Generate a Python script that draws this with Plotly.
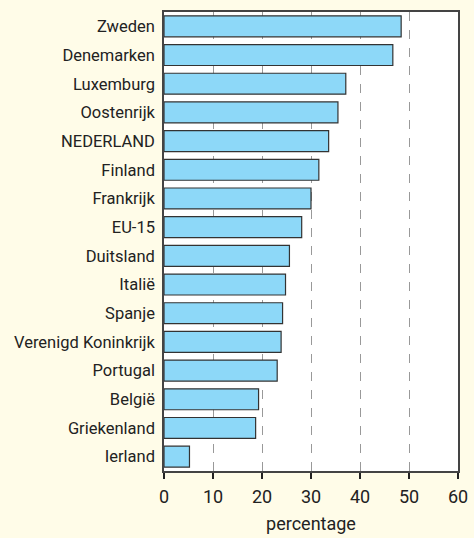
import plotly.graph_objects as go

countries = ["Zweden", "Denemarken", "Luxemburg", "Oostenrijk", "NEDERLAND", "Finland",
             "Frankrijk", "EU-15", "Duitsland", "Italië", "Spanje", "Verenigd Koninkrijk",
             "Portugal", "België", "Griekenland", "Ierland"]
values = [48.4, 46.7, 37.1, 35.5, 33.6, 31.6, 30.0, 28.1, 25.6, 24.8, 24.2, 23.9,
          23.1, 19.3, 18.7, 5.2]
x_ticks = [0, 10, 20, 30, 40, 50, 60]
x_title = "percentage"

FONT = "Roboto, sans-serif"
BG = "#fffce8"

fig = go.Figure(go.Bar(
    x=values, y=countries, orientation="h",
    marker=dict(color="#8dd8f8", line=dict(color="#333333", width=1.2)),
    hoverinfo="x+y",
))

fig.update_layout(
    width=474, height=538,
    margin=dict(l=164, r=16, t=12, b=67, autoexpand=False),
    paper_bgcolor=BG,
    plot_bgcolor="#ffffff",
    bargap=0.27,
    showlegend=False,
    font=dict(family=FONT, size=16.5, color="#222222"),
)
fig.update_xaxes(
    range=[0, 60], tickvals=x_ticks, ticktext=[str(v) for v in x_ticks],
    showgrid=True, gridcolor="#999999", griddash="dash", gridwidth=1,
    showline=True, linecolor="#444444", linewidth=1.5, mirror=True,
    ticks="outside", ticklen=6, tickwidth=1.5, tickcolor="#222222",
    tickfont=dict(size=18), ticklabelstandoff=3, zeroline=False, automargin=False,
    title=dict(text=x_title, font=dict(size=18), standoff=11),
)
fig.update_yaxes(
    categoryorder="array", categoryarray=countries[::-1],
    showgrid=False, showline=True, linecolor="#444444", linewidth=1.5, mirror=True,
    ticks="", ticklabelstandoff=4, tickfont=dict(size=16.5), automargin=False,
)

fig.write_html(
    "out.html",
    config={"displayModeBar": False},
    post_script="document.body.style.margin='0';document.body.style.background='%s';" % BG,
)
